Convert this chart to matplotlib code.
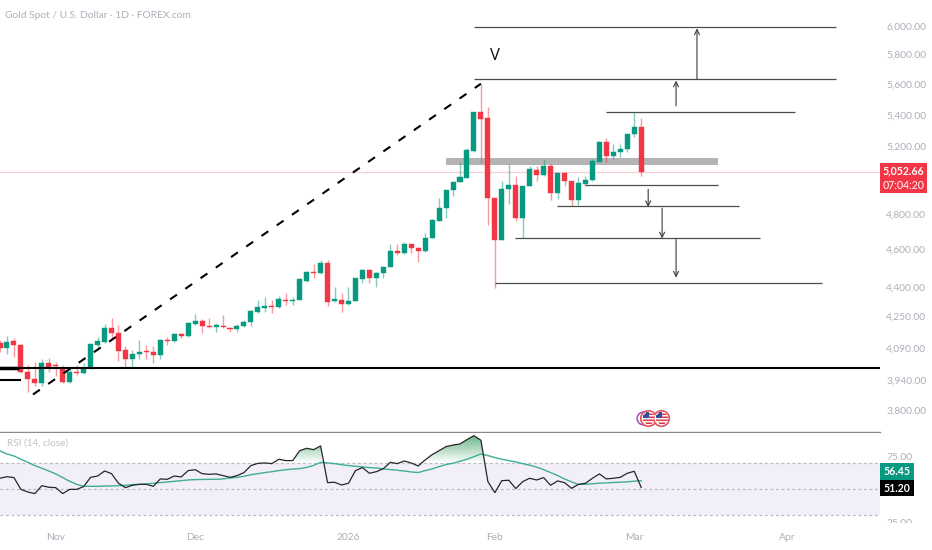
import numpy as np
import matplotlib
matplotlib.use("Agg")
import matplotlib.pyplot as plt
from matplotlib.patches import Rectangle
from matplotlib.path import Path
from matplotlib.ticker import FixedLocator, NullLocator
from matplotlib.offsetbox import OffsetImage, AnnotationBbox

plt.rcParams["font.family"] = ["Lato", "DejaVu Sans"]
plt.rcParams["ytick.alignment"] = "center"

#=================== candles ===================
opens = [4121,4097,4131,4111,3981,3948,3929,4024,4014,4000,3934,3981,3976,4000,4111,4126,4196,4171,4087,4043,
         4067,4082,4077,4062,4136,4131,4166,4156,4217,4232,4206,4201,4206,4196,4191,4206,4227,4277,4298,4308,
         4303,4339,4334,4339,4439,4486,4481,4535,4334,4339,4318,4334,4449,4497,4455,4481,4513,4600,4589,4634,
         4617,4600,4672,4762,4838,4942,4990,5014,5178,5425,5387,4895,4661,4948,4972,4780,4966,5062,5032,5087,
         4925,5044,4996,4884,4978,5002,5111,5235,5148,5172,5191,5284,5329]
highs = [4136,4156,4146,4116,4014,4028,4043,4048,4028,4014,4000,4014,4024,4116,4151,4216,4247,4211,4107,4087,
         4136,4111,4107,4141,4151,4171,4171,4227,4267,4242,4247,4222,4262,4201,4216,4237,4287,4339,4355,4339,
         4360,4376,4355,4455,4492,4529,4551,4551,4407,4376,4407,4455,4502,4502,4486,4518,4634,4639,4650,4639,
         4622,4695,4774,4895,4942,4990,5111,5197,5425,5609,5458,4895,4996,5099,5026,4966,5087,5087,5129,5099,
         5044,5044,4996,5020,5026,5129,5241,5259,5222,5222,5291,5425,5387]
lows = [4077,4068,4053,3976,3887,3915,3915,3981,3962,3929,3929,3967,3974,3995,4102,4121,4146,4033,4004,4004,
        4043,4043,4024,4043,4111,4126,4146,4151,4211,4171,4196,4176,4196,4176,4176,4201,4206,4272,4277,4272,
        4298,4313,4313,4339,4433,4455,4476,4308,4329,4277,4313,4334,4428,4428,4407,4455,4513,4578,4584,4589,
        4540,4595,4667,4762,4780,4907,4990,5014,5172,5105,4745,4402,4661,4860,4762,4667,4966,4996,5026,4884,
        4890,4966,4849,4855,4966,4996,5111,5111,5129,5141,5172,5266,5026]
closes = [4097,4126,4111,3981,3948,3929,4024,4000,4009,3934,3981,3976,4000,4116,4131,4196,4171,4082,4043,4067,
          4077,4077,4062,4136,4131,4166,4156,4222,4232,4206,4201,4211,4201,4191,4206,4227,4282,4303,4308,4303,
          4344,4334,4339,4449,4486,4481,4535,4329,4344,4318,4334,4455,4497,4455,4481,4513,4600,4589,4634,4617,
          4600,4672,4768,4838,4942,4990,5020,5185,5425,5380,4895,4661,4948,4972,4780,4966,5068,5032,5087,4925,
          5044,4996,4884,4984,5002,5117,5235,5148,5172,5191,5284,5329,5053]

#=================== rsi ===================
rsi = [58.1,59.3,58.6,49.7,47.7,46.5,52.5,51.3,51.0,46.5,49.7,49.7,51.8,58.8,59.8,63.6,61.6,54.3,51.0,52.8,
       53.5,53.5,52.0,57.6,57.3,59.8,59.1,63.9,64.6,61.6,61.1,61.4,60.1,58.8,60.1,62.4,67.7,69.4,69.7,69.2,
       72.5,71.5,71.5,79.0,80.8,79.8,82.6,54.8,55.1,53.0,54.3,63.9,66.2,61.9,63.1,65.4,70.2,69.2,71.2,69.7,
       67.4,72.0,76.0,79.0,82.1,83.3,84.1,87.4,90.4,86.9,55.6,47.2,56.3,56.6,50.3,55.6,58.1,56.8,58.6,52.8,
       56.1,54.8,50.5,53.5,54.3,58.1,61.4,57.6,58.1,58.8,61.9,63.4,51.2]
rsi_ma = [78.8,76.5,75.0,72.5,70.2,67.7,65.7,63.6,61.4,58.6,55.8,53.5,52.0,52.0,52.0,52.2,52.3,52.5,52.8,53.3,
          53.5,53.8,54.3,54.8,55.3,55.8,56.3,56.8,57.1,57.2,57.3,57.3,57.6,58.3,58.8,59.6,60.8,61.6,62.4,63.1,
          63.9,64.6,65.1,65.4,66.4,67.8,70.2,69.7,69.2,68.4,67.7,67.2,66.7,66.2,65.9,65.2,64.7,64.2,63.6,62.9,
          62.4,63.9,65.2,66.9,68.5,69.5,71.0,72.5,74.5,76.5,75.3,73.8,72.5,71.5,70.5,69.2,68.0,66.5,64.7,62.4,
          60.2,57.6,55.4,53.4,53.6,53.9,54.4,54.6,54.9,55.1,55.4,55.9,56.2]

#=================== drawings ===================
level_prices = [6000, 5640, 5425, 4972, 4849, 4667, 4428]
level_starts = [68, 68, 86.9, 83.9, 79.9, 73.9, 71]
level_ends = [119.9, 119.9, 114, 103, 106, 109, 118]

arrow_x = [100, 97, 93, 95, 97]
arrow_from = [5640, 5464, 4948, 4838, 4661]
arrow_to = [5990, 5630, 4844, 4667, 4455]

dash_x = [4.73, 69]
dash_y = [3877, 5609]
support = 4000
old_level = 3943
band_x = [64, 103]
band_low, band_high = 5092, 5133
last_price = 5052.66

price_ticks = [6000, 5800, 5600, 5400, 5200, 4800, 4600, 4400, 4250, 4090, 3940, 3800]
price_labels = ["6,000.00", "5,800.00", "5,600.00", "5,400.00", "5,200.00", "4,800.00", "4,600.00",
                "4,400.00", "4,250.00", "4,090.00", "3,940.00", "3,800.00"]
date_ticks = [8, 28, 50, 71, 91, 113]
date_labels = ["Nov", "Dec", "2026", "Feb", "Mar", "Apr"]

GREEN = "#089981"
RED = "#f23645"
GREY = "#acafb8"

W, H = 932, 550
fig = plt.figure(figsize=(W / 100, H / 100), dpi=100)

def box(x0, y0, x1, y1):
    # pixel box with y measured from the top of the picture
    return [x0 / W, 1 - y1 / H, (x1 - x0) / W, (y1 - y0) / H]

ax = fig.add_axes(box(0, 0, 880, 432))
ax2 = fig.add_axes(box(0, 433, 880, 525))

#=================== price panel ===================
ax.set_yscale("log")
ax.set_xlim(0, 126.26)
ax.set_ylim(3708, 6196)

x = np.arange(len(opens))
opens = np.array(opens)
closes = np.array(closes)
colors = [GREEN if c >= o else RED for o, c in zip(opens, closes)]

ax.fill_between(band_x, band_low, band_high, color="#b4b4b4", lw=0, zorder=1)
ax.axhline(last_price, color="#f9cdd1", lw=0.9, zorder=1)
ax.vlines(x, lows, highs, colors=colors, lw=1.0, alpha=0.5, zorder=2)
ax.bar(x, np.abs(closes - opens), bottom=np.minimum(opens, closes), width=0.72,
       color=colors, edgecolor=colors, lw=0.3, zorder=3)

ax.hlines(level_prices, level_starts, level_ends, colors="#4d4d4d", lw=0.9, zorder=4)
for xa, p0, p1 in zip(arrow_x, arrow_from, arrow_to):
    ax.annotate("", xy=(xa, p1), xytext=(xa, p0), zorder=4,
                arrowprops=dict(arrowstyle="->", color="#3c3c3c", lw=0.8, shrinkA=0, shrinkB=0,
                                mutation_scale=9))

ax.plot(dash_x, dash_y, color="black", lw=1.5, dashes=(4.0, 4.9), zorder=5)
ax.axhline(support, color="black", lw=1.5, zorder=5)
ax.plot([0, 2.5], [support, support], color="black", lw=2.5, zorder=5)
ax.plot([0, 2.9], [old_level, old_level], color="black", lw=1.5, zorder=5)
ax.text(71, 5800, "V", fontsize=12, ha="center", va="center", color="#111111",
        family=["Open Sans", "DejaVu Sans"])

# event markers near the bottom of the chart
event_price = 3770
ax.scatter([92.2], [event_price], s=85, facecolor="white", edgecolor="#a24bc4", lw=1.1, zorder=6, clip_on=False)
flag = np.ones((8, 8, 4))
flag[:, :, :3] = [1, 1, 1]
flag[[1, 3, 5, 7], :, :3] = [0.85, 0.2, 0.27]
flag[:4, :4, :3] = [0.2, 0.3, 0.6]
yy, xx = np.mgrid[-3.5:4, -3.5:4]
flag[xx ** 2 + yy ** 2 > 17, 3] = 0
for xf in [93, 94.9]:
    ax.scatter([xf], [event_price], s=125, facecolor="white", edgecolor="#e8505f", lw=1.2, zorder=7, clip_on=False)
    ax.add_artist(AnnotationBbox(OffsetImage(flag, zoom=1.0), (xf, event_price), frameon=False, pad=0,
                                 annotation_clip=False, zorder=8))

ax.yaxis.tick_right()
ax.yaxis.set_major_locator(FixedLocator(price_ticks))
ax.yaxis.set_minor_locator(NullLocator())
ax.set_yticklabels(price_labels)
ax.tick_params(axis="y", length=0, pad=4.5, labelsize=7.4, labelcolor=GREY, which="both")
ax.xaxis.set_major_locator(NullLocator())
for s in ["top", "left", "right"]:
    ax.spines[s].set_visible(False)
ax.spines["bottom"].set_color("#8a8a8a")
ax.spines["bottom"].set_linewidth(1.0)
ax.patch.set_alpha(0)

fig.text(5 / W, 1 - 15.5 / H, "Gold Spot / U.S. Dollar · 1D · FOREX.com", fontsize=7.4, color=GREY, va="center")

#=================== rsi panel ===================
ax2.set_xlim(0, 126.26)
ax2.set_ylim(22.7, 92.4)
ax2.axhspan(30, 70, color="#f2eff8", lw=0, zorder=0)
for lvl in [70, 50, 30]:
    ax2.axhline(lvl, color="#b9b9c0", lw=0.9, dashes=(2.2, 2.2), zorder=1)

rsi = np.array(rsi)
fill = ax2.fill_between(x, 70, rsi, where=rsi > 70, interpolate=True, color="none", lw=0)
grad = np.linspace(1, 0, 64).reshape(-1, 1)
cmap = matplotlib.colors.LinearSegmentedColormap.from_list("ob", ["#ffffff", "#6fb98a"])
im = ax2.imshow(grad, extent=[0, 126.26, 70, 90.4], aspect="auto", cmap=cmap, zorder=2)
im.set_clip_path(Path.make_compound_path(*fill.get_paths()), transform=ax2.transData)
ax2.set_xlim(0, 126.26)
ax2.set_ylim(22.7, 92.4)

ax2.plot(x, rsi_ma, color="#3fae98", lw=1.0, zorder=3)
ax2.plot(x, rsi, color="#26262b", lw=0.9, zorder=4)
ax2.text(7 / 6.97, 84.5, "RSI (14, close)", fontsize=7.2, color="#bfc1c8", va="center")

ax2.yaxis.set_major_locator(NullLocator())
ax2.set_xticks(date_ticks)
ax2.set_xticklabels(date_labels)
ax2.tick_params(axis="x", length=0, pad=6, labelsize=7.4, labelcolor=GREY)
for s in ax2.spines.values():
    s.set_visible(False)

# right scale of the rsi panel, the lower label is cut off by the pane edge
for val, txt in [(75, "75.00"), (25, "25.00")]:
    ax2.annotate(txt, (1.0, val), xycoords=("axes fraction", "data"), xytext=(5, -1), textcoords="offset points",
                 fontsize=7.4, color=GREY, va="center")
fig.add_artist(Rectangle((880 / W, 1 - 531 / H), 52 / W, 8 / H, transform=fig.transFigure,
                         facecolor="white", edgecolor="none"))

#=================== value tags ===================
def tag(x0, y0, x1, y1, color, lines):
    fig.add_artist(Rectangle((x0 / W, 1 - y1 / H), (x1 - x0) / W, (y1 - y0) / H, transform=fig.transFigure,
                             facecolor=color, edgecolor="none"))
    step = (y1 - y0) / len(lines)
    for n, (txt, weight) in enumerate(lines):
        fig.text((x0 + x1) / 2 / W, 1 - (y0 + step * (n + 0.5)) / H, txt, color="white", fontsize=7.6,
                 fontweight=weight, ha="center", va="center")

tag(880, 163, 927, 193, RED, [("5,052.66", "bold"), ("07:04:20", "normal")])
tag(880, 463, 914, 480, GREEN, [("56.45", "bold")])
tag(880, 480, 914, 496, "black", [("51.20", "bold")])

fig.savefig("out.png", dpi=100)
